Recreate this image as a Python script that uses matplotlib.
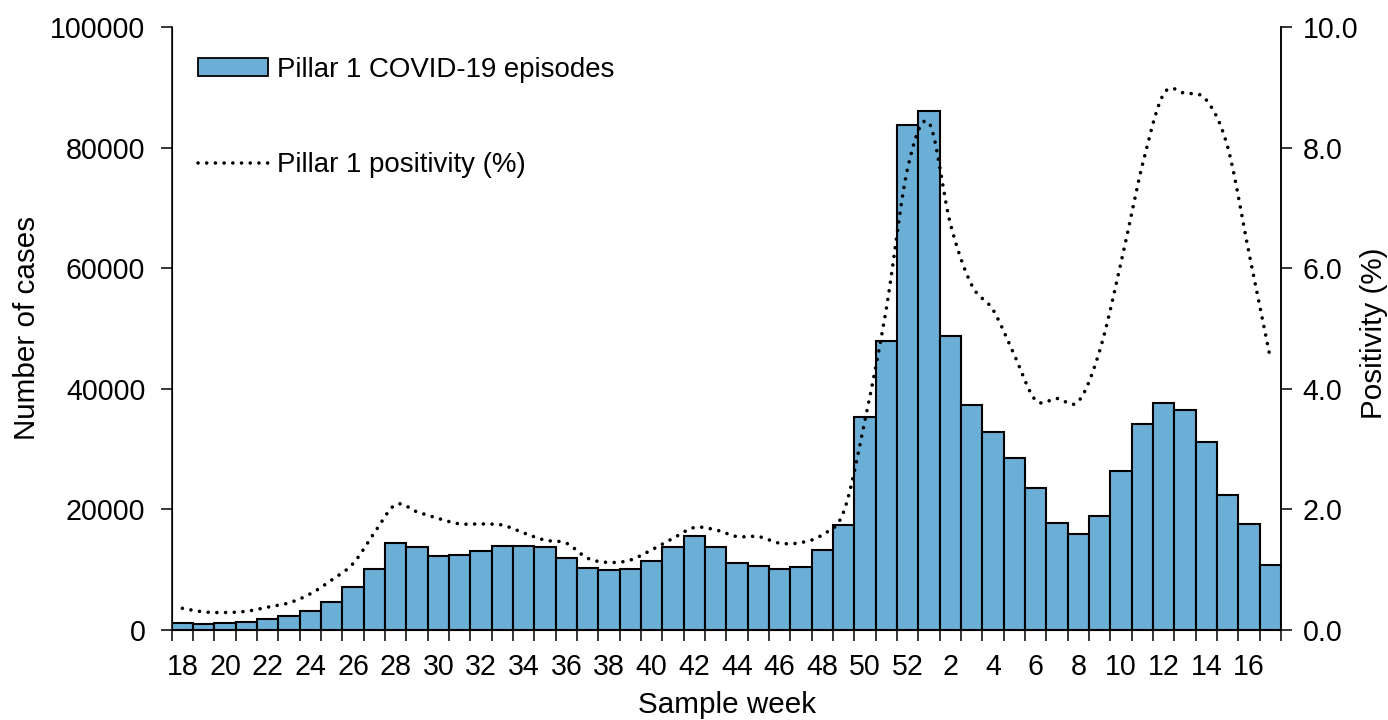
import numpy as np
import matplotlib
matplotlib.use("Agg")
import matplotlib.pyplot as plt
from matplotlib.patches import Patch
from matplotlib.lines import Line2D

weeks = list(range(18, 53)) + list(range(1, 18))
cases = [1200, 940, 1100, 1330, 1880, 2320, 3150, 4640, 7080, 10070,
         14380, 13710, 12330, 12440, 13100, 13980, 13870, 13710, 11940, 10280,
         9950, 10060, 11440, 13710, 15540, 13820, 11060, 10670, 10060, 10390,
         13270, 17360, 35370, 47980, 83750, 86020, 48810, 37310, 32780, 28470,
         23490, 17690, 15920, 18900, 26370, 34160, 37590, 36430, 31180, 22390,
         17580, 10830]
positivity = [0.36, 0.30, 0.29, 0.31, 0.38, 0.45, 0.60, 0.83, 1.10, 1.61,
              2.08, 1.96, 1.85, 1.76, 1.76, 1.74, 1.61, 1.49, 1.44, 1.19,
              1.12, 1.16, 1.33, 1.52, 1.70, 1.66, 1.55, 1.55, 1.44, 1.45,
              1.58, 1.96, 3.48, 5.33, 7.66, 8.41, 6.74, 5.72, 5.31, 4.56,
              3.81, 3.84, 3.79, 4.63, 6.09, 7.71, 8.89, 8.90, 8.79, 8.01,
              6.25, 4.51]
left_ticks = [0, 20000, 40000, 60000, 80000, 100000]
right_ticks = [0.0, 2.0, 4.0, 6.0, 8.0, 10.0]

plt.rcParams['font.family'] = ['Liberation Sans', 'DejaVu Sans']
FS_X = 20.6
FS_Y = 20.6
FS_T = 21.3
FS_L = 19.9
W, H = 1388, 720
fig = plt.figure(figsize=(W / 100, H / 100), dpi=100)
ax = fig.add_axes([171.7 / W, 1 - 630 / H, (1281 - 171.7) / W, (630 - 27) / H])

x = np.arange(len(weeks))
ax.bar(x, cases, width=1.0, color='#6baed6', edgecolor='black', linewidth=1.5, zorder=2)
ax.set_xlim(-0.5, len(weeks) - 0.5)
ax.set_ylim(0, 100000)
ax.set_yticks(left_ticks)
ax.set_yticklabels([str(v) for v in left_ticks], fontsize=FS_Y)
ax.set_xticks(np.arange(-0.5, len(weeks), 1.0))
ax.set_xticklabels([])
ax.set_xticks(x[::2], minor=True)
ax.set_xticklabels([str(w) for w in weeks[::2]], minor=True, fontsize=FS_X)
ax.tick_params(axis='x', which='major', length=8, width=1.1, direction='out')
ax.tick_params(axis='x', which='minor', length=0, pad=16.5)
ax.tick_params(axis='y', length=8, width=1.1, direction='out', pad=11)
ax.spines['top'].set_visible(False)
for s in ['left', 'bottom', 'right']:
    ax.spines[s].set_linewidth(1.1)

ax2 = ax.twinx()
ax2.set_ylim(0, 10)
ax2.set_yticks(right_ticks)
ax2.set_yticklabels([f"{v:.1f}" for v in right_ticks], fontsize=FS_Y)
ax2.tick_params(axis='y', length=8, width=1.1, direction='out', pad=7.5)
ax2.spines['top'].set_visible(False)
ax2.spines['right'].set_linewidth(1.1)

# Smoothed curve (Excel-style Catmull-Rom through the data points)
p = np.array(positivity, dtype=float)
xs_all, ys_all = [], []
n = len(p)
for i in range(n - 1):
    p0 = p[i - 1] if i > 0 else p[i]
    p1, p2 = p[i], p[i + 1]
    p3 = p[i + 2] if i + 2 < n else p[i + 1]
    x0 = x[i - 1] if i > 0 else x[i]
    x1, x2 = x[i], x[i + 1]
    x3 = x[i + 2] if i + 2 < n else x[i + 1]
    b1y = p1 + (p2 - p0) / 6
    b2y = p2 - (p3 - p1) / 6
    b1x = x1 + (x2 - x0) / 6
    b2x = x2 - (x3 - x1) / 6
    t = np.linspace(0, 1, 25)[:-1] if i < n - 2 else np.linspace(0, 1, 25)
    xs_all.append((1 - t) ** 3 * x1 + 3 * (1 - t) ** 2 * t * b1x + 3 * (1 - t) * t ** 2 * b2x + t ** 3 * x2)
    ys_all.append((1 - t) ** 3 * p1 + 3 * (1 - t) ** 2 * t * b1y + 3 * (1 - t) * t ** 2 * b2y + t ** 3 * p2)
xs_all = np.concatenate(xs_all)
ys_all = np.concatenate(ys_all)
LS = (0, (0.01, 2.4))
ax2.plot(xs_all, ys_all, color='black', linewidth=2.6, linestyle=LS,
         dash_capstyle='round', zorder=3)

fig.text(27 / W, 1 - 328 / H, 'Number of cases', rotation=90, ha='center', va='center', fontsize=FS_T)
fig.text(1374 / W, 1 - 333 / H, 'Positivity (%)', rotation=90, ha='center', va='center', fontsize=FS_T)
fig.text(727 / W, 1 - 705 / H, 'Sample week', ha='center', va='center', fontsize=FS_T)

handles = [Patch(facecolor='#6baed6', edgecolor='black', linewidth=1.3),
           Line2D([0], [0], color='black', linewidth=2.6, linestyle=LS, dash_capstyle='round')]
labels = ['Pillar 1 COVID-19 episodes', 'Pillar 1 positivity (%)']
fig.legend(handles, labels, loc='upper left', bbox_to_anchor=(198 / W, 1 - 57 / H),
           frameon=False, fontsize=FS_L, borderpad=0, borderaxespad=0,
           handlelength=2.55, handletextpad=0.3, labelspacing=2.5, handleheight=0.6)

fig.savefig('out.png', dpi=100)
